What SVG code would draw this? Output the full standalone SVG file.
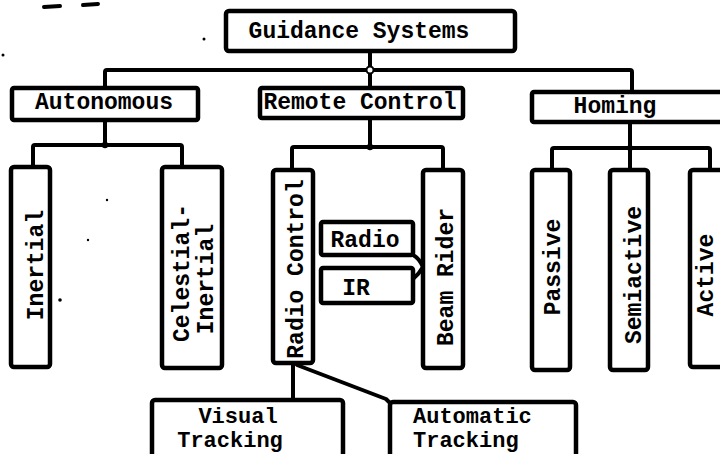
<svg xmlns="http://www.w3.org/2000/svg" width="720" height="454" viewBox="0 0 720 454">
<style>
.box{fill:#fff;stroke:#000;stroke-width:4.5;stroke-linejoin:round}
.ln{fill:none;stroke:#000;stroke-width:4;stroke-linejoin:round;stroke-linecap:round}
.t{font-family:"Liberation Mono","DejaVu Sans Mono",monospace;font-size:23px;font-weight:bold;fill:#000}
.s{font-size:22px}
.m{text-anchor:middle}
.sp{fill:#000}
</style>
<rect width="720" height="454" fill="#fff"/>
<g id="specks">
<path class="ln" d="M44,7 L60,6 M83,5 L98,4" stroke-width="2.5"/>
<circle class="sp" cx="3" cy="55" r="1.5"/>
<circle class="sp" cx="204" cy="39" r="1.5"/>
<circle class="sp" cx="60" cy="300" r="1.8"/>
<circle class="sp" cx="107" cy="200" r="1.2"/>
<circle class="sp" cx="88" cy="240" r="1.2"/>
</g>
<g id="connectors">
<path class="ln" d="M370,51 L370,88"/>
<path class="ln" d="M105,88 L105,72 Q105,70 107,70 L630,70 Q632,70 632,72 L632,92"/>
<path class="ln" d="M105,120 L105,145"/>
<path class="ln" d="M33,168 L33,147 Q33,145 35,145 L180,145 Q182,145 182,147 L182,168"/>
<path class="ln" d="M370,118 L370,147"/>
<path class="ln" d="M292,170 L292,149 Q292,147 294,147 L441,147 Q443,147 443,149 L443,170"/>
<path class="ln" d="M630,122 L630,170"/>
<path class="ln" d="M552,170 L552,150 Q552,148 554,148 L708,148 Q710,148 710,150 L710,170"/>
<path class="ln" d="M413,255 Q419,258 423,267 Q419,274 413,279"/>
<path class="ln" d="M293,363 L293,400"/>
<path class="ln" d="M297,365 L386,399 L390,403"/>
<circle cx="370" cy="70" r="3.5" fill="#fff" stroke="#000" stroke-width="2"/>
<circle cx="105" cy="145" r="3.2" fill="#000"/>
<circle cx="370" cy="147" r="3.2" fill="#000"/>
<circle cx="630" cy="148" r="3" fill="#000"/>
</g>
<g id="guidance">
<rect class="box" x="226" y="11" width="289" height="40" rx="3"/>
<text class="t m" x="359" y="38">Guidance Systems</text>
</g>
<g id="autonomous">
<rect class="box" x="12" y="88" width="186" height="32" rx="2"/>
<text class="t m" x="104" y="109">Autonomous</text>
</g>
<g id="remote">
<rect class="box" x="260" y="88" width="203" height="30" rx="2"/>
<text class="t m" x="360" y="109">Remote Control</text>
</g>
<g id="homing">
<rect class="box" x="532" y="92" width="200" height="30" rx="2"/>
<text class="t m" x="615" y="113">Homing</text>
</g>
<g id="inertial">
<rect class="box" x="11" y="167" width="39" height="200" rx="3"/>
<text class="t m" transform="translate(35,265) rotate(-90)" y="8">Inertial</text>
</g>
<g id="celestial">
<rect class="box" x="162" y="167" width="60" height="201" rx="3"/>
<text class="t m" transform="translate(181,273) rotate(-90)" y="8">Celestial-</text>
<text class="t m" transform="translate(205,279) rotate(-90)" y="8">Inertial</text>
</g>
<g id="radiocontrol">
<rect class="box" x="273" y="170" width="40" height="193" rx="3"/>
<text class="t m" transform="translate(295,269) rotate(-90)" y="8">Radio Control</text>
</g>
<g id="beamrider">
<rect class="box" x="423" y="170" width="40" height="198" rx="3"/>
<text class="t m" transform="translate(445,277) rotate(-90)" y="8">Beam Rider</text>
</g>
<g id="radio">
<rect class="box" x="321" y="222" width="92" height="33" rx="2"/>
<text class="t m" x="365" y="247">Radio</text>
</g>
<g id="ir">
<rect class="box" x="321" y="268" width="92" height="35" rx="2"/>
<text class="t m" x="356" y="295">IR</text>
</g>
<g id="passive">
<rect class="box" x="532" y="170" width="38" height="200" rx="3"/>
<text class="t m" transform="translate(552,267) rotate(-90)" y="8">Passive</text>
</g>
<g id="semiactive">
<rect class="box" x="610" y="170" width="38" height="200" rx="3"/>
<text class="t m" transform="translate(633,275) rotate(-90)" y="8">Semiactive</text>
</g>
<g id="active">
<rect class="box" x="690" y="170" width="60" height="197" rx="3"/>
<text class="t m" transform="translate(706,275) rotate(-90)" y="7">Active</text>
</g>
<g id="visual">
<rect class="box" x="152" y="400" width="191" height="64" rx="3"/>
<text class="t s m" x="238" y="423">Visual</text>
<text class="t s m" x="230" y="447">Tracking</text>
</g>
<g id="automatic">
<rect class="box" x="390" y="402" width="186" height="62" rx="3"/>
<text class="t s" x="413" y="423">Automatic</text>
<text class="t s" x="413" y="447">Tracking</text>
</g>
</svg>
